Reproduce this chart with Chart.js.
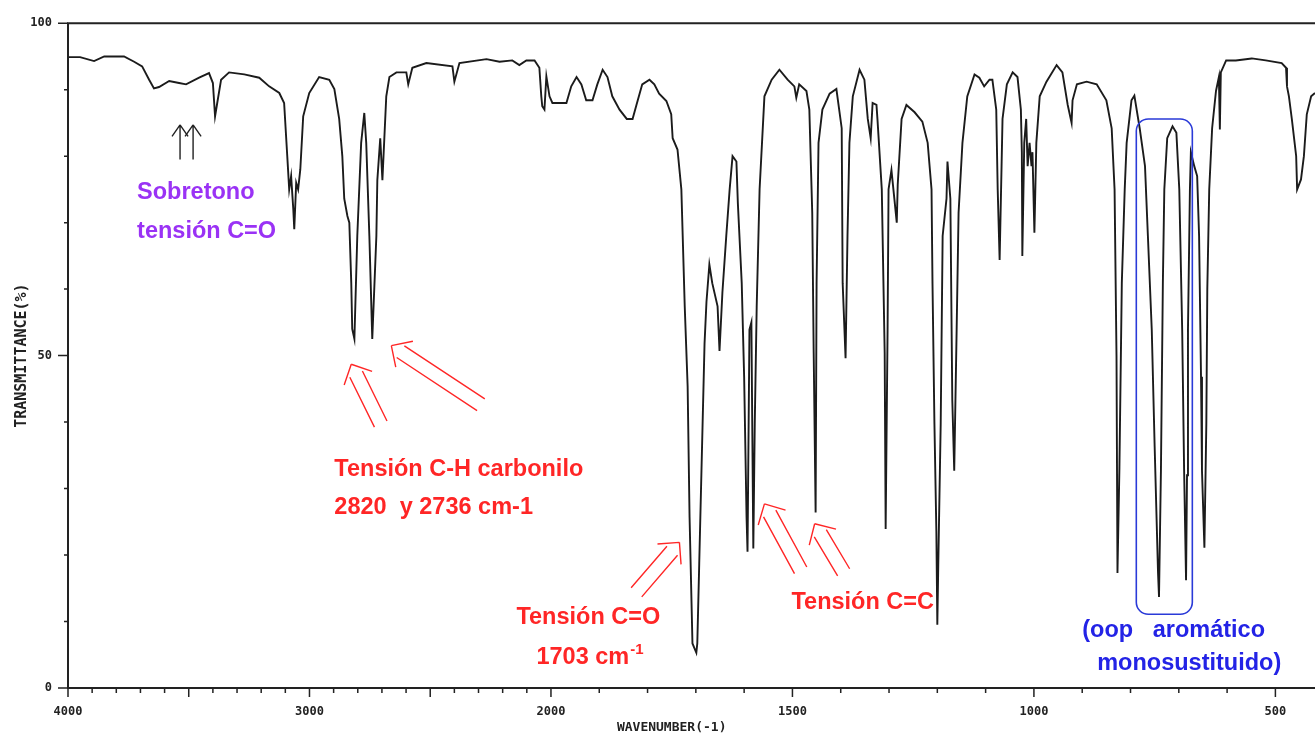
<!DOCTYPE html>
<html>
<head>
<meta charset="utf-8">
<script src="https://cdn.jsdelivr.net/npm/chart.js@4.4.0/dist/chart.umd.min.js"></script>
<style>
  html, body { margin: 0; padding: 0; background: #fff; }
  #wrap { width: 1315px; height: 735px; position: relative; }
</style>
</head>
<body>
<div id="wrap"><canvas id="irChart"></canvas></div>
<script>
// IR spectrum: wavenumber (cm-1) and transmittance (%)
const wavenumbers = [
  4000, 3950, 3892, 3850, 3768, 3726, 3693, 3664, 3644, 3623, 3581, 3540, 3511, 3457, 3416,
  3400, 3391, 3382, 3366, 3333, 3270, 3208, 3167, 3125, 3105, 3092, 3084, 3076, 3067, 3063,
  3055, 3047, 3038, 3026, 3001, 2960, 2918, 2897, 2877, 2864, 2856, 2843, 2835, 2827, 2823,
  2814, 2802, 2786, 2773, 2765, 2752, 2740, 2723, 2719, 2707, 2698, 2690, 2682, 2669, 2640,
  2599, 2591, 2574, 2516, 2408, 2400, 2379, 2267, 2213, 2160, 2131, 2102, 2068, 2048, 2040,
  2036, 2027, 2019, 2006, 1997, 1968, 1958, 1947, 1937, 1927, 1914, 1904, 1893, 1883, 1873,
  1858, 1843, 1831, 1823, 1811, 1796, 1786, 1776, 1761, 1751, 1748, 1738, 1730, 1723, 1717,
  1713, 1707, 1699, 1697, 1693, 1686, 1682, 1678, 1672, 1666, 1655, 1651, 1645, 1637, 1630,
  1624, 1616, 1613, 1605, 1600, 1595, 1593, 1589, 1585, 1581, 1578, 1574, 1568, 1558, 1543,
  1527, 1510, 1496, 1492, 1486, 1471, 1465, 1459, 1456, 1452, 1450, 1446, 1438, 1423, 1409,
  1398, 1396, 1390, 1386, 1382, 1375, 1361, 1351, 1344, 1338, 1334, 1326, 1324, 1315, 1309,
  1307, 1303, 1301, 1295, 1289, 1284, 1282, 1274, 1264, 1247, 1231, 1220, 1212, 1210, 1206,
  1202, 1200, 1198, 1193, 1189, 1181, 1179, 1173, 1169, 1165, 1160, 1156, 1148, 1138, 1123,
  1113, 1103, 1092, 1086, 1078, 1075, 1071, 1067, 1065, 1056, 1044, 1034, 1027, 1025, 1024,
  1020, 1016, 1013, 1009, 1005, 1003, 999, 995, 988, 974, 953, 941, 930, 922, 920,
  911, 891, 870, 850, 839, 833, 829, 827, 823, 818, 812, 808, 798, 792, 781,
  770, 764, 756, 750, 743, 741, 737, 733, 730, 724, 713, 705, 699, 693, 689,
  685, 683, 681, 677, 675, 668, 662, 658, 654, 652, 647, 643, 641, 637, 631,
  623, 617, 615, 613, 602, 582, 549, 520, 487, 478, 476, 472, 466, 457, 455,
  447, 441, 435, 426, 418
];
const transmittance = [
  94.9, 94.9, 94.3, 95.0, 95.0, 94.2, 93.5, 91.5, 90.2, 90.4, 91.3, 91.0, 90.8, 91.8, 92.5,
  91.0, 86.0, 88.0, 91.5, 92.6, 92.3, 91.8, 90.5, 89.5, 88.0, 80.0, 75.0, 77.0, 72.0, 69.0,
  76.0, 75.0, 78.0, 86.0, 89.5, 91.9, 91.5, 90.1, 85.6, 80.0, 73.6, 71.0, 70.0, 61.0, 54.0,
  52.5, 68.0, 82.0, 86.5, 82.0, 68.0, 52.5, 68.0, 76.4, 82.7, 76.4, 82.7, 89.0, 91.9, 92.6,
  92.6, 90.8, 93.3, 94.0, 93.5, 91.2, 94.0, 94.6, 94.2, 94.4, 93.7, 94.4, 94.4, 93.3, 89.0,
  87.5, 87.0, 92.0, 89.0, 88.0, 88.0, 90.5, 91.9, 90.8, 88.4, 88.4, 90.8, 93.0, 91.9, 89.0,
  87.0, 85.6, 85.6, 87.7, 90.8, 91.5, 90.8, 89.4, 88.3, 86.3, 82.7, 81.0, 75.0, 57.4, 45.4,
  25.7, 6.7, 5.3, 6.7, 18.7, 39.8, 51.8, 58.1, 63.7, 60.9, 57.4, 50.7, 59.5, 68.0, 75.0,
  80.0, 79.2, 72.9, 60.9, 46.8, 25.7, 20.5, 53.9, 55.0, 21.0, 39.8, 57.4, 75.0, 89.0, 91.5,
  93.0, 91.5, 90.5, 88.8, 90.8, 89.8, 87.0, 71.5, 50.4, 26.4, 60.9, 82.0, 87.0, 89.4, 90.1,
  84.2, 60.9, 49.6, 68.0, 82.0, 89.0, 93.0, 91.5, 85.6, 82.7, 88.0, 87.7, 85.6, 75.0, 50.4,
  23.9, 53.9, 75.0, 77.9, 73.6, 70.0, 75.7, 85.6, 87.7, 86.6, 85.2, 82.0, 75.0, 60.9, 39.8,
  23.6, 9.5, 18.7, 39.8, 68.0, 73.6, 79.2, 73.6, 43.3, 32.7, 53.9, 71.5, 82.0, 89.0, 92.3,
  91.8, 90.5, 91.5, 91.5, 87.0, 75.0, 64.4, 78.5, 85.6, 90.8, 92.6, 91.9, 87.0, 80.6, 65.0,
  82.0, 85.6, 78.5, 82.0, 78.5, 80.6, 68.5, 82.0, 89.0, 91.2, 93.7, 92.6, 87.7, 85.0, 88.4,
  90.8, 91.2, 90.8, 88.4, 84.2, 75.0, 50.0, 17.3, 33.0, 60.9, 75.0, 82.0, 88.4, 89.1, 84.2,
  78.5, 68.0, 53.9, 36.3, 17.3, 13.7, 32.7, 61.0, 75.0, 82.7, 84.5, 83.5, 75.0, 53.9, 32.7,
  16.2, 32.0, 54.0, 75.0, 80.6, 78.5, 77.0, 68.0, 46.8, 32.7, 21.1, 39.8, 60.0, 75.0, 84.2,
  89.8, 91.9, 84.0, 92.6, 94.4, 94.4, 94.7, 94.4, 94.0, 93.3, 90.5, 89.0, 85.6, 80.0, 75.0,
  76.5, 80.0, 86.3, 89.0, 89.5
];
const xTickLabels = [4000, 3000, 2000, 1500, 1000, 500];
const yTickLabels = [0, 50, 100];

// the spectrometer chart doubles its scale below 2000 cm-1
function toAxis(wn) { return wn >= 2000 ? (4000 - wn) / 2 : 1000 + (2000 - wn); }
function fromAxis(t) { return t <= 1000 ? 4000 - 2 * t : 2000 - (t - 1000); }

const RED = '#ff2626', PURPLE = '#9a32f5', BLUE = '#2323e6';
const TXT = 'bold 23.5px "Liberation Sans", Arial, sans-serif';
const MONO = '"DejaVu Sans Mono", monospace';

// notes are placed in data units (wavenumber, %T)
const notes = [
  { text: 'Sobretono', wn: 3714, t: 74.6, color: PURPLE },
  { text: 'tensión C=O', wn: 3714, t: 68.7, color: PURPLE },
  { text: 'Tensión C-H carbonilo', wn: 2897, t: 32.9, color: RED },
  { text: '2820  y 2736 cm-1', wn: 2897, t: 27.1, color: RED },
  { text: 'Tensión C=O', wn: 2143, t: 10.6, color: RED },
  { text: '1703 cm', sup: '-1', wn: 2060, t: 4.6, color: RED },
  { text: 'Tensión C=C', wn: 1502, t: 12.9, color: RED },
  { text: '(oop   aromático', wn: 900, t: 8.7, color: BLUE },
  { text: 'monosustituido)', wn: 869, t: 3.7, color: BLUE }
];
const arrows = [
  { from: [3536, 79.5], to: [3536, 84.7], color: '#222', double: false },
  { from: [3482, 79.5], to: [3482, 84.7], color: '#222', double: false },
  { from: [2705, 39.7], to: [2827, 48.7], color: RED, double: true },
  { from: [2290, 42.6], to: [2661, 51.5], color: RED, double: true },
  { from: [1823, 14.4], to: [1734, 21.9], color: RED, double: true },
  { from: [1483, 17.7], to: [1558, 27.7], color: RED, double: true },
  { from: [1394, 17.4], to: [1454, 24.7], color: RED, double: true }
];
const box = { wn: [788, 672], t: [85.6, 11.1], color: '#2a3ad8' };

function drawArrow(ctx, x1, y1, x2, y2, color, double) {
  const len = Math.hypot(x2 - x1, y2 - y1);
  const ux = (x2 - x1) / len, uy = (y2 - y1) / len;
  const nx = -uy, ny = ux;
  ctx.strokeStyle = color;
  ctx.lineWidth = 1.4;
  ctx.beginPath();
  if (double) {
    const off = 7, start = 11;
    for (const s of [-1, 1]) {
      ctx.moveTo(x1 + nx * off * s, y1 + ny * off * s);
      ctx.lineTo(x2 - ux * start + nx * off * s, y2 - uy * start + ny * off * s);
    }
  } else {
    ctx.moveTo(x1, y1);
    ctx.lineTo(x2, y2);
  }
  // open chevron head
  const w = double ? 22 : 14;
  const ang = double ? Math.PI / 4 : Math.PI * 35 / 180;
  const c = Math.cos(ang), sn = Math.sin(ang);
  for (const s of [-1, 1]) {
    ctx.moveTo(x2, y2);
    ctx.lineTo(x2 + (-ux * c + s * nx * sn) * w, y2 + (-uy * c + s * ny * sn) * w);
  }
  ctx.stroke();
}

const irFrame = {
  id: 'irFrame',
  afterDraw(chart) {
    const { ctx, chartArea: a, scales: { x, y } } = chart;
    const px = wn => x.getPixelForValue(toAxis(wn));
    const py = t => y.getPixelForValue(t);
    ctx.save();

    // frame and tick marks
    ctx.strokeStyle = '#222';
    ctx.lineWidth = 2;
    ctx.beginPath();
    ctx.moveTo(a.right, a.top);
    ctx.lineTo(a.left, a.top);
    ctx.lineTo(a.left, a.bottom);
    ctx.lineTo(a.right, a.bottom);
    ctx.stroke();
    ctx.lineWidth = 1.5;
    ctx.beginPath();
    x.ticks.forEach(tk => {
      const wn = Math.round(fromAxis(tk.value));
      const p = x.getPixelForValue(tk.value);
      ctx.moveTo(p, a.bottom);
      ctx.lineTo(p, a.bottom + (wn % 500 === 0 ? 9 : 5));
    });
    y.ticks.forEach(tk => {
      const p = y.getPixelForValue(tk.value);
      ctx.moveTo(a.left, p);
      ctx.lineTo(a.left - (tk.value % 50 === 0 ? 10 : 4), p);
    });
    ctx.stroke();

    // x axis title, sits left of centre in the original
    ctx.fillStyle = '#222';
    ctx.font = 'bold 13px ' + MONO;
    ctx.textAlign = 'center';
    ctx.textBaseline = 'middle';
    ctx.fillText('WAVENUMBER(-1)', px(1750), 728);

    // rounded box around the oop bands
    const bx1 = px(box.wn[0]), bx2 = px(box.wn[1]);
    const by1 = py(box.t[0]), by2 = py(box.t[1]);
    ctx.strokeStyle = box.color;
    ctx.lineWidth = 1.6;
    ctx.beginPath();
    ctx.roundRect(bx1, by1, bx2 - bx1, by2 - by1, 12);
    ctx.stroke();

    arrows.forEach(ar => {
      drawArrow(ctx, px(ar.from[0]), py(ar.from[1]), px(ar.to[0]), py(ar.to[1]), ar.color, ar.double);
    });

    ctx.textAlign = 'left';
    notes.forEach(n => {
      ctx.font = TXT;
      ctx.fillStyle = n.color;
      const x0 = px(n.wn), y0 = py(n.t);
      ctx.fillText(n.text, x0, y0);
      if (n.sup) {
        const w = ctx.measureText(n.text).width;
        ctx.font = 'bold 15px "Liberation Sans", Arial, sans-serif';
        ctx.fillText(n.sup, x0 + w + 1, y0 - 8);
      }
    });
    ctx.restore();
  }
};

const tickFont = { family: MONO, size: 12, weight: 'bold' };

new Chart(document.getElementById('irChart'), {
  type: 'line',
  data: {
    datasets: [{
      data: wavenumbers.map((wn, i) => ({ x: toAxis(wn), y: transmittance[i] })),
      borderColor: '#1b1b1b',
      borderWidth: 1.9,
      pointRadius: 0,
      tension: 0,
      fill: false
    }]
  },
  options: {
    responsive: true,
    maintainAspectRatio: false,
    animation: false,
    layout: { padding: { top: 18, right: 0, bottom: 0, left: 0 } },
    plugins: { legend: { display: false }, tooltip: { enabled: false } },
    scales: {
      x: {
        type: 'linear',
        min: 0,
        max: toAxis(418),
        afterBuildTicks: scale => {
          const list = [];
          for (let wn = 4000; wn >= 500; wn -= 100) list.push({ value: toAxis(wn) });
          scale.ticks = list;
        },
        afterFit: scale => { scale.height = 47; },
        grid: { display: false, drawTicks: false },
        border: { display: false },
        ticks: {
          autoSkip: false,
          maxRotation: 0,
          padding: 17,
          color: '#222',
          font: tickFont,
          callback: v => {
            const wn = Math.round(fromAxis(v));
            return xTickLabels.includes(wn) ? String(wn) : '';
          }
        }
      },
      y: {
        min: 0,
        max: 100,
        afterFit: scale => { scale.width = 68; },
        grid: { display: false, drawTicks: false },
        border: { display: false },
        ticks: {
          stepSize: 10,
          autoSkip: false,
          padding: 16,
          color: '#222',
          font: tickFont,
          callback: v => (yTickLabels.includes(v) ? String(v) : '')
        },
        title: {
          display: true,
          text: 'TRANSMITTANCE(%)',
          color: '#222',
          font: { family: MONO, size: 15, weight: 'bold', lineHeight: 1.2 },
          padding: { top: 13, bottom: 0 }
        }
      }
    }
  },
  plugins: [irFrame]
});
</script>
</body>
</html>
